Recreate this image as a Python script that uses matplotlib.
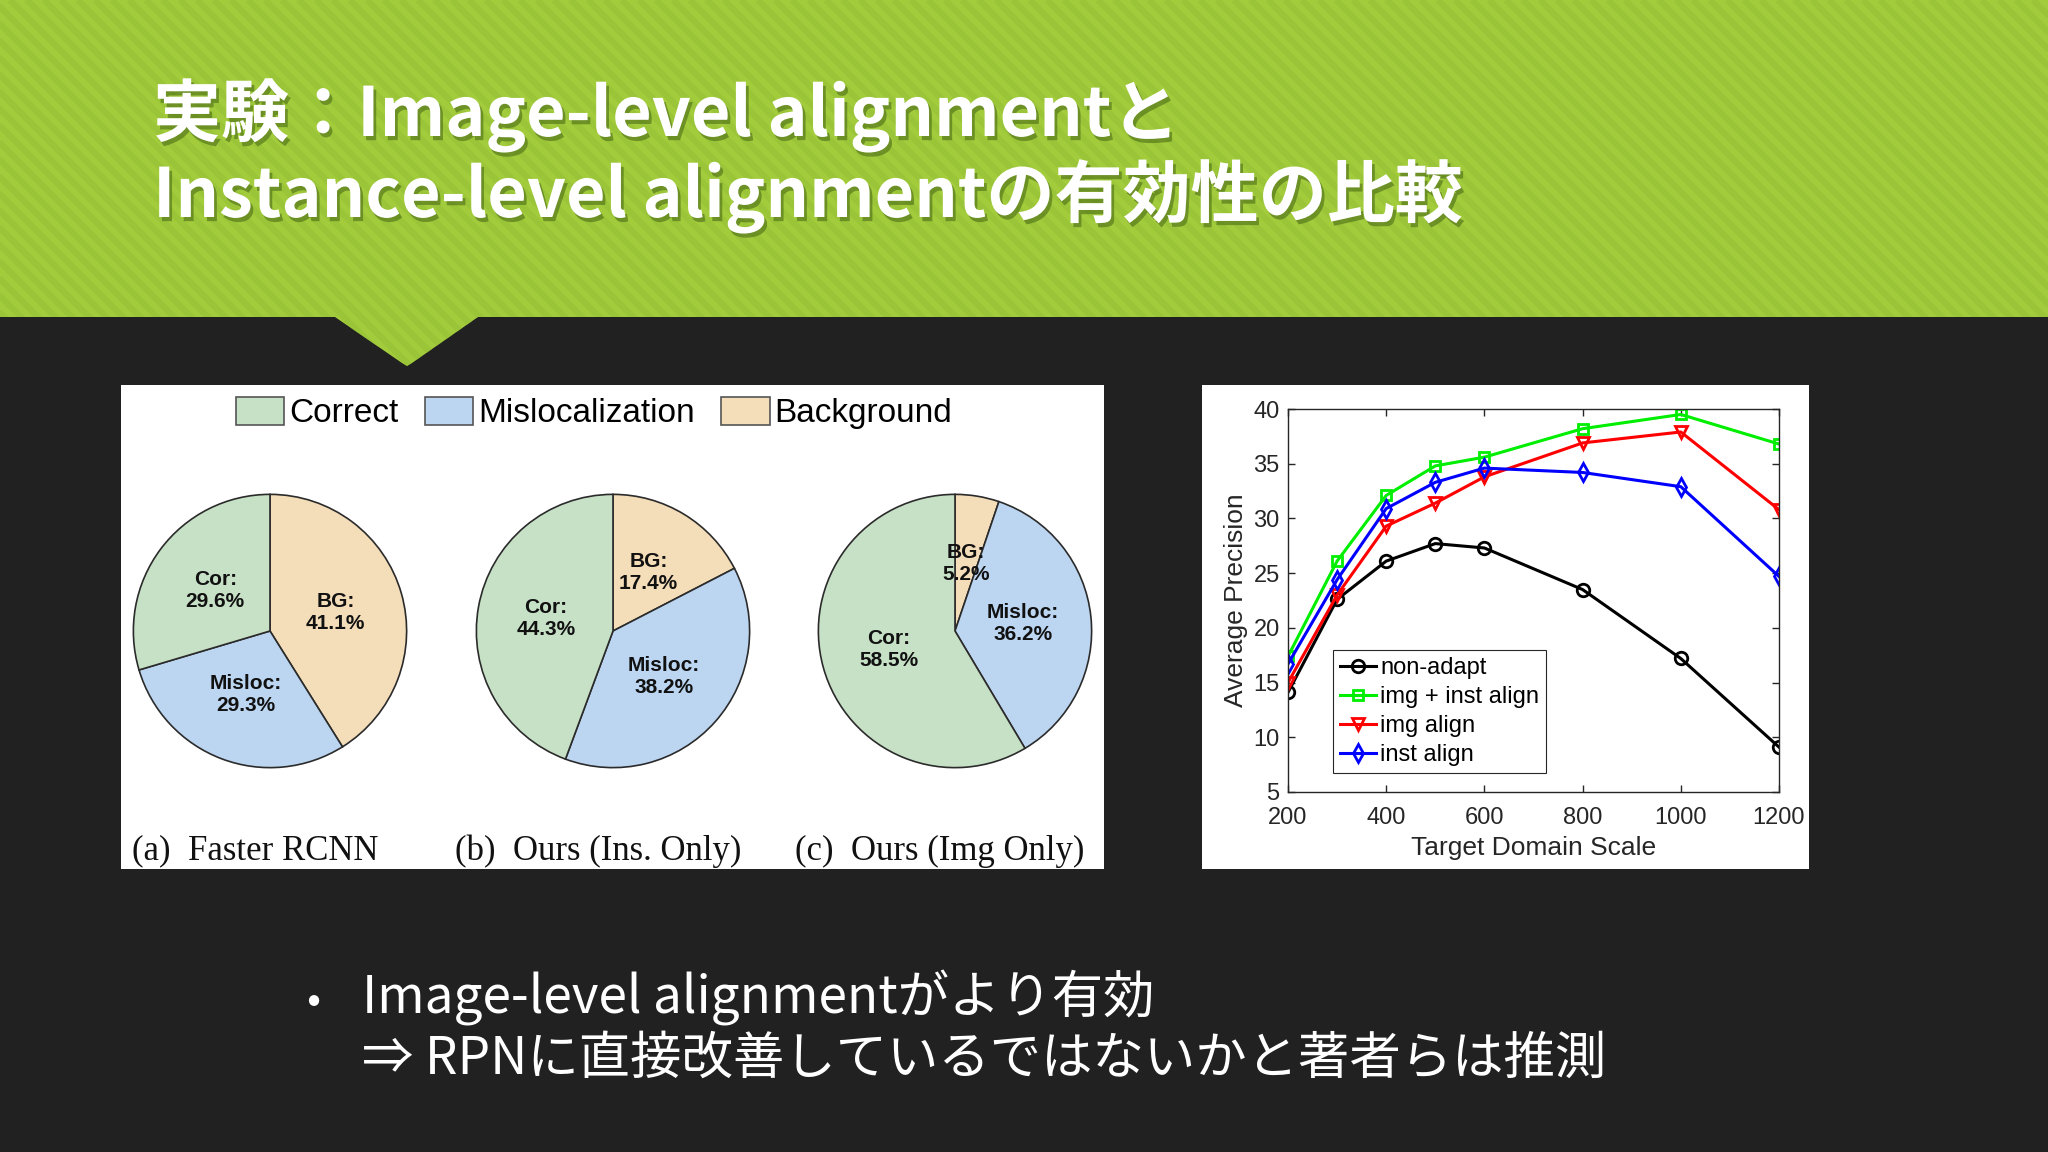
import matplotlib
matplotlib.use("Agg")
import matplotlib.pyplot as plt
from matplotlib.patches import Polygon, Rectangle, Patch
import matplotlib.patheffects as pe
import numpy as np

# ---------------- data ----------------
title_lines = ["実験：Image-level alignmentと", "Instance-level alignmentの有効性の比較"]
bullet_lines = ["Image-level alignmentがより有効", "⇒ RPNに直接改善しているではないかと著者らは推測"]

categories = ["Correct", "Mislocalization", "Background"]
short_names = ["Cor", "Misloc", "BG"]
pie_titles = ["(a)  Faster RCNN", "(b)  Ours (Ins. Only)", "(c)  Ours (Img Only)"]
correct_pct = [29.6, 44.3, 58.5]
misloc_pct = [29.3, 38.2, 36.2]
bg_pct = [41.1, 17.4, 5.2]

scales = [200, 300, 400, 500, 600, 800, 1000, 1200]
non_adapt = [14.1, 22.6, 26.1, 27.7, 27.3, 23.5, 17.2, 9.1]
img_inst_align = [17.4, 26.1, 32.1, 34.8, 35.6, 38.2, 39.5, 36.8]
img_align = [15.0, 23.0, 29.3, 31.4, 33.8, 36.9, 37.9, 30.8]
inst_align = [16.7, 24.4, 30.9, 33.3, 34.6, 34.2, 32.9, 24.7]
series_names = ["non-adapt", "img + inst align", "img align", "inst align"]
xticks = [200, 400, 600, 800, 1000, 1200]
yticks = [5, 10, 15, 20, 25, 30, 35, 40]

# ---------------- figure ----------------
W, H = 2048, 1152
fig = plt.figure(figsize=(W / 100, H / 100), dpi=100)
fig.patch.set_facecolor("#212121")

def fx(x):
    return x / W

def fy(y):
    return 1 - y / H

bg = fig.add_axes([0, 0, 1, 1])
bg.set_xlim(0, W)
bg.set_ylim(H, 0)
bg.axis("off")

# green header with notch
hdr = [(0, 0), (W, 0), (W, 317), (478, 317), (412, 363), (407, 366), (402, 363), (335, 317), (0, 317)]
header = Polygon(hdr, closed=True, facecolor="#a3cc3d", edgecolor="none", zorder=1)
bg.add_patch(header)
for c in np.arange(-500, W + 50, 17):
    ln, = bg.plot([c, c + 420], [0, 420], color="#94c034", lw=4.5, alpha=0.55,
                  solid_capstyle="butt", zorder=2)
    ln.set_clip_path(header)

# white panels
bg.add_patch(Rectangle((121, 385), 983, 484, facecolor="white", edgecolor="none", zorder=1))
bg.add_patch(Rectangle((1202, 385), 607, 484, facecolor="white", edgecolor="none", zorder=1))

# title
shadow = [pe.withSimplePatchShadow(offset=(2, -3), shadow_rgbFace="#3b5a10", alpha=0.5)]
for i, line in enumerate(title_lines):
    bg.text(153, 136 + i * 81, line, color="white", fontsize=49, fontweight="bold",
            family=["Noto Sans CJK JP", "DejaVu Sans"], va="baseline", ha="left",
            zorder=5, path_effects=shadow)

# bottom bullet text
bg.text(313, 1013, "•", color="white", fontsize=30, family=["Noto Sans CJK JP", "DejaVu Sans"],
        va="baseline", ha="center")
for i, line in enumerate(bullet_lines):
    bg.text(362, 1013 + i * 61, line, color="white", fontsize=37,
            family=["Noto Sans CJK JP", "DejaVu Sans"], va="baseline", ha="left")

# ---------------- pies ----------------
pie_colors = {"Correct": "#c7e1c7", "Mislocalization": "#bcd6f2", "Background": "#f4ddb9"}
centers = [(270, 631), (613, 631), (955, 631)]
R = 138
caption_x = [255, 598, 940]
for k, (cx, cy) in enumerate(centers):
    ax = fig.add_axes([fx(cx - R), fy(cy + R), 2 * R / W, 2 * R / H])
    vals = [bg_pct[k], misloc_pct[k], correct_pct[k]]
    names = [short_names[2], short_names[1], short_names[0]]
    cols = [pie_colors["Background"], pie_colors["Mislocalization"], pie_colors["Correct"]]
    labels = [f"{n}:\n{v}%" for n, v in zip(names, vals)]
    wedges, texts = ax.pie(vals, colors=cols, labels=labels, labeldistance=0.5,
                           startangle=90, counterclock=False,
                           wedgeprops=dict(edgecolor="#2b2b2b", linewidth=1.2),
                           textprops=dict(fontsize=15, fontweight="bold",
                                          family="Liberation Sans", color="#111111"))
    for t in texts:
        t.set_ha("center")
        t.set_va("center")
    ax.set_xlim(-1.01, 1.01)
    ax.set_ylim(-1.01, 1.01)
    bg.text(caption_x[k], 851, pie_titles[k], fontsize=25, family="Liberation Serif",
            ha="center", va="center", color="#111111", zorder=5)

handles = [Patch(facecolor=pie_colors[c], edgecolor="#555555", linewidth=1.2) for c in categories]
fig.legend(handles, categories, loc="center", bbox_to_anchor=(fx(594), fy(413)), ncol=3,
           frameon=False, prop=dict(family="Liberation Sans", size=24),
           handlelength=1.45, handleheight=0.95, handletextpad=0.15, columnspacing=0.8,
           borderpad=0)

# ---------------- line chart ----------------
axl = fig.add_axes([fx(1288), fy(792), (1779 - 1288) / W, (792 - 409) / H])
styles = [("#000000", "o", 9), ("#00ee00", "s", 7), ("#ff0000", "v", 9), ("#0000ff", "d", 9)]
for ys, name, (col, mk, ms) in zip([non_adapt, img_inst_align, img_align, inst_align], series_names, styles):
    axl.plot(scales, ys, color=col, marker=mk, ms=ms, mfc="none", mec=col, mew=2, lw=2.2, label=name)
axl.set_xlim(200, 1200)
axl.set_ylim(5, 40)
axl.set_xticks(xticks)
axl.set_yticks(yticks)
axl.tick_params(direction="in", top=True, right=True, length=5, width=1, color="#262626",
                labelsize=17, labelcolor="#262626", pad=6)
axl.tick_params(axis="x", pad=11)
for lab in axl.get_xticklabels() + axl.get_yticklabels():
    lab.set_family("Liberation Sans")
for s in axl.spines.values():
    s.set_color("#262626")
    s.set_linewidth(1)
axl.set_xlabel("Target Domain Scale", fontsize=19, family="Liberation Sans", color="#262626", labelpad=5)
axl.set_ylabel("Average Precision", fontsize=19, family="Liberation Sans", color="#262626", labelpad=4)
leg = axl.legend(loc="upper left", bbox_to_anchor=((1333 - 1288) / 491, (792 - 650) / 383),
                 borderaxespad=0, prop=dict(family="Liberation Sans", size=17),
                 fancybox=False, edgecolor="#262626", framealpha=1,
                 handlelength=1.5, handletextpad=0.2, labelspacing=0.3, borderpad=0.3)
leg.get_frame().set_linewidth(0.8)

fig.savefig("out.png", dpi=100, facecolor=fig.get_facecolor())
